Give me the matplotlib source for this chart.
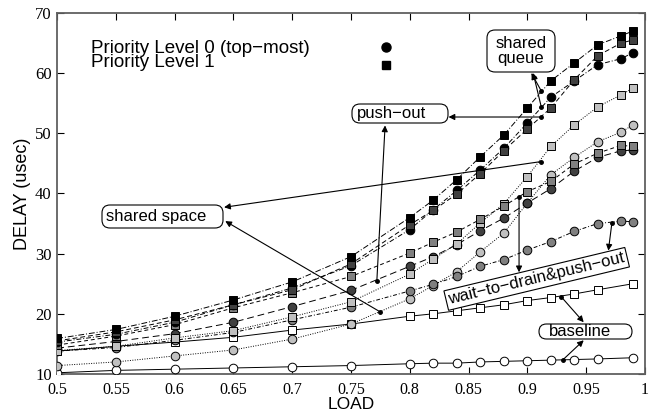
import numpy as np
import matplotlib

matplotlib.use("Agg")
import matplotlib.pyplot as plt
from matplotlib.patches import FancyBboxPatch

# ── data ──────────────────────────────────────────────────────────────────
LOAD = [0.5, 0.55, 0.6, 0.65, 0.7, 0.75, 0.8, 0.82, 0.84, 0.86, 0.88, 0.9, 0.92, 0.94, 0.96, 0.98, 0.99]
LOAD_BASE = [0.5, 0.55, 0.6, 0.65, 0.7, 0.75, 0.8, 0.82, 0.84, 0.86, 0.88, 0.9, 0.92, 0.94, 0.96, 0.99]

queue_p0 = [15.3, 16.6, 18.6, 21.5, 24.3, 28.0, 34.0, 37.3, 40.5, 43.9, 47.5, 51.7, 56.0, 58.7, 61.4, 62.4, 63.4]
queue_p1 = [15.9, 17.4, 19.6, 22.3, 25.3, 29.5, 36.0, 38.9, 42.3, 46.1, 49.7, 54.2, 58.7, 61.7, 64.7, 66.2, 67.0]
push_p0 = [14.3, 15.4, 16.7, 18.6, 21.2, 23.9, 27.9, 29.5, 31.5, 33.8, 35.9, 38.4, 40.8, 43.7, 46.0, 47.1, 47.2]
push_p1 = [15.5, 17.0, 19.0, 21.5, 24.0, 28.3, 34.8, 37.2, 39.9, 43.3, 47.1, 50.7, 54.2, 58.9, 62.9, 65.0, 65.5]
drain_p0 = [13.8, 14.4, 15.6, 16.9, 19.0, 21.1, 23.8, 24.9, 26.2, 27.9, 29.0, 30.6, 32.0, 33.7, 35.0, 35.4, 35.3]
drain_p1 = [14.8, 16.3, 18.2, 21.0, 23.5, 26.2, 30.1, 31.9, 33.6, 35.7, 37.9, 40.3, 42.0, 44.9, 46.7, 48.0, 47.8]
space_p0 = [11.4, 12.0, 13.0, 14.0, 15.8, 18.3, 22.5, 24.7, 27.0, 30.3, 33.4, 38.4, 43.1, 46.0, 48.6, 50.2, 51.4]
space_p1 = [13.9, 14.6, 16.0, 17.2, 19.5, 22.0, 26.6, 29.1, 31.6, 35.1, 38.3, 42.8, 47.8, 51.4, 54.4, 56.4, 57.5]
base_p0 = [10.2, 10.6, 10.8, 11.0, 11.2, 11.4, 11.7, 11.8, 11.8, 12.0, 12.1, 12.2, 12.3, 12.4, 12.5, 12.7]
base_p1 = [13.8, 14.6, 15.3, 16.1, 17.3, 18.3, 19.6, 20.0, 20.5, 21.0, 21.5, 22.2, 22.7, 23.3, 24.0, 25.0]

X_TICKS = [0.5, 0.55, 0.6, 0.65, 0.7, 0.75, 0.8, 0.85, 0.9, 0.95, 1]
X_TICKLABELS = ["0.5", "0.55", "0.6", "0.65", "0.7", "0.75", "0.8", "0.85", "0.9", "0.95", "1"]
Y_TICKS = [10, 20, 30, 40, 50, 60, 70]

SANS = "Liberation Sans"
SERIF = "Liberation Serif"
W, H = 650, 416

fig = plt.figure(figsize=(W / 100, H / 100), dpi=100)
ax = fig.add_axes([0.088, 0.101, 0.904, 0.868])

# (x, y, marker, face colour, dash pattern)
series = [
    (LOAD_BASE, base_p0, "o", "white", "-"),
    (LOAD_BASE, base_p1, "s", "white", "-"),
    (LOAD, space_p0, "o", "#c0c0c0", (0, (1, 1.5))),
    (LOAD, drain_p0, "o", "#808080", (0, (4, 2, 1, 2))),
    (LOAD, push_p0, "o", "#404040", (0, (7, 4))),
    (LOAD, space_p1, "s", "#c0c0c0", (0, (1, 1.5))),
    (LOAD, drain_p1, "s", "#808080", (0, (4, 3))),
    (LOAD, queue_p0, "o", "black", (0, (5, 2, 1, 2))),
    (LOAD, push_p1, "s", "#404040", (0, (5, 3))),
    (LOAD, queue_p1, "s", "black", (0, (6, 2, 1, 2))),
]
for i, (xs, ys, mk, fc, ls) in enumerate(series):
    ax.plot(xs, ys, color="black", lw=0.7, linestyle=ls, marker=mk, ms=6.2,
            mfc=fc, mec="black", mew=0.7, zorder=3 + i * 0.1)

ax.set_xlim(0.5, 1)
ax.set_ylim(10, 70)
ax.set_xticks(X_TICKS)
ax.set_xticklabels(X_TICKLABELS, fontfamily=SERIF, fontsize=11.5)
ax.set_yticks(Y_TICKS)
ax.set_yticklabels([str(v) for v in Y_TICKS], fontfamily=SERIF, fontsize=12)
ax.tick_params(direction="in", length=5, width=0.8, top=True, right=True)
ax.tick_params(axis="x", pad=6)
ax.tick_params(axis="y", pad=4)
for sp in ax.spines.values():
    sp.set_color("#606060")
    sp.set_linewidth(1.3)
ax.set_xlabel("LOAD", fontfamily=SANS, fontsize=12.5, labelpad=-1)
ax.set_ylabel("DELAY (usec)", fontfamily=SANS, fontsize=13, labelpad=3)

# legend drawn by hand like the original
ax.text(0.529, 61.0, "Priority Level 0 (top\u2212most)\nPriority Level 1", fontfamily=SANS,
        fontsize=13.5, va="baseline", linespacing=0.78)
ax.plot([0.78], [64.4], "o", color="black", ms=6.5, zorder=5)
ax.plot([0.78], [61.4], "s", color="black", ms=6.2, zorder=5)

arrow = dict(arrowstyle="-|>", color="black", lw=0.8, mutation_scale=9, shrinkA=0, shrinkB=0)


def label_box(text, left, top, right, bottom, tx=None):
    """Rounded label box given in reference pixels (origin top-left)."""
    h = bottom - top
    r = min(h / 2, 8)
    patch = FancyBboxPatch((left / W, 1 - bottom / H), (right - left) / W, h / H,
                           boxstyle=f"round,pad=0,rounding_size={r / W}",
                           mutation_aspect=W / H, transform=fig.transFigure,
                           fc="white", ec="black", lw=0.8, zorder=10)
    fig.add_artist(patch)
    cy = 1 - (top + bottom) / 2 / H
    if tx is None:
        fig.text((left + right) / 2 / W, cy, text, ha="center", va="center", fontfamily=SANS,
                 fontsize=12, linespacing=0.95, zorder=11)
    else:
        fig.text(tx / W, cy, text, ha="left", va="center", fontfamily=SANS, fontsize=12, zorder=11)


def arrows(tails, heads):
    for tail, head in zip(tails, heads):
        ax.annotate("", xy=head, xytext=tail, arrowprops=arrow, zorder=9)
        ax.plot(*tail, "o", color="black", ms=2.5, zorder=9)


label_box("shared\nqueue", 487, 30, 555, 72)
arrows([(0.912, 57.0), (0.912, 54.3)], [(0.9035, 60.0), (0.905, 60.0)])
label_box("push\u2212out", 352, 104, 448, 123, tx=357)
arrows([(0.912, 52.7), (0.772, 25.5)], [(0.833, 52.7), (0.779, 51.3)])
label_box("shared space", 102, 205, 223, 228, tx=106)
arrows([(0.912, 45.3), (0.775, 20.3)], [(0.642, 37.7), (0.643, 35.4)])
label_box("baseline", 539, 324, 632, 339, tx=549)
arrows([(0.929, 22.8), (0.93, 12.3)], [(0.948, 18.6), (0.948, 15.6)])

ax.text(0.908, 25.8, "wait\u2212to\u2212drain&push\u2212out", fontfamily=SANS, fontsize=12,
        ha="center", va="center", rotation=13.5, zorder=10,
        bbox=dict(boxstyle="square,pad=0.15", fc="white", ec="black", lw=0.8))
arrows([(0.893, 39.4), (0.972, 35.1)], [(0.893, 26.9), (0.969, 30.5)])

fig.savefig("out.png", dpi=100)
